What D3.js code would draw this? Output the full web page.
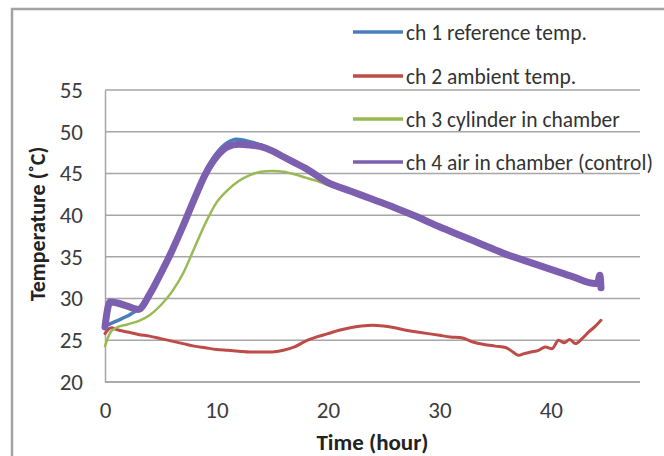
<!DOCTYPE html>
<html>
<head>
<meta charset="utf-8">
<script src="https://cdn.jsdelivr.net/npm/d3@7"></script>
<style>
  html, body { margin: 0; padding: 0; background: #fff; }
  svg { display: block; }
  text { font-family: Carlito, Lato, "Liberation Sans", sans-serif; }
</style>
</head>
<body>
<svg id="chart" width="664" height="456"></svg>
<script>
// ---- data ----
const seriesNames = [
  "ch 1 reference temp.",
  "ch 2 ambient temp.",
  "ch 3 cylinder in chamber",
  "ch 4 air in chamber (control)"
];
const xTicks = [0, 10, 20, 30, 40];
const yTicks = [20, 25, 30, 35, 40, 45, 50, 55];

const ch1 = [[0,26.7],[0.5,27.0],[1,27.3],[2,27.9],[3,28.8],[4,30.7],[5,33.2],[6,36.0],[7,39.0],[8,42.2],[9,45.2],[10,47.4],[11,48.7],[11.8,49.1],[13,48.8],[14,48.4],[15,47.8],[16,47.1],[17,46.4],[18,45.7],[20,44.1],[22,43.0],[24,42.0],[26,40.9],[28,39.8],[30,38.6],[32,37.5],[34,36.4],[36,35.3],[38,34.4],[40,33.5],[42,32.6],[44,31.8],[44.5,32.3]];
const ch2 = [[0,25.8],[0.3,26.3],[0.6,26.5],[1,26.3],[2,26.0],[3,25.7],[4,25.5],[5,25.2],[6,24.9],[7,24.6],[8,24.3],[9,24.1],[10,23.9],[11,23.8],[12,23.7],[13,23.6],[14,23.6],[15,23.6],[16,23.8],[17,24.2],[18,24.9],[19,25.4],[20,25.8],[21,26.2],[22,26.5],[23,26.7],[24,26.8],[25,26.7],[26,26.5],[27,26.2],[28,26.0],[29,25.8],[30,25.6],[31,25.4],[32,25.3],[33,24.8],[34,24.5],[35,24.3],[36,24.1],[36.6,23.6],[37.1,23.2],[37.6,23.4],[38.2,23.6],[38.9,23.8],[39.5,24.2],[40.1,24.0],[40.7,25.0],[41.2,24.7],[41.7,25.1],[42.2,24.6],[42.8,25.2],[43.4,26.0],[44,26.7],[44.5,27.4]];
const ch3 = [[0,24.3],[0.5,26.0],[1,26.5],[2,26.9],[3,27.3],[4,28.0],[5,29.2],[6,30.8],[7,33.0],[8,36.0],[9,39.0],[10,41.5],[11,43.0],[12,44.1],[13,44.8],[14,45.2],[15,45.3],[16,45.2],[17,44.9],[18,44.5],[19,44.1],[20,43.6],[22,42.8],[24,41.8],[26,40.8],[28,39.7],[30,38.5],[32,37.4],[34,36.3],[36,35.2],[38,34.3],[40,33.4],[42,32.6],[44,31.9],[44.5,32.5]];
const ch4 = [[0,26.6],[0.2,28.5],[0.45,29.6],[1,29.5],[2,29.1],[3,28.7],[4,30.5],[5,33.0],[6,35.7],[7,38.7],[8,41.9],[9,44.9],[10,47.0],[11,48.2],[12,48.5],[13,48.4],[14,48.2],[15,47.7],[16,47.0],[17,46.3],[18,45.6],[20,43.9],[22,42.9],[24,41.9],[26,40.9],[28,39.8],[30,38.6],[32,37.5],[34,36.4],[36,35.3],[38,34.4],[40,33.5],[42,32.6],[44,31.8],[44.2,31.9],[44.4,32.8],[44.5,31.3]];

const seriesData = [ch1, ch2, ch3, ch4];
const colors = ["#4a7ebb", "#be4b48", "#98b954", "#7d5fb0"];
const widths = [3.5, 3, 2.5, 7];

// ---- layout ----
const svg = d3.select("#chart");
const plot = { left: 105, right: 640, top: 90, bottom: 382 };

const x = d3.scaleLinear().domain([0, 48]).range([plot.left, plot.right]);
const y = d3.scaleLinear().domain([20, 55]).range([plot.bottom, plot.top]);

// outer frame (cropped on right and bottom like the reference)
svg.append("rect")
  .attr("x", 12).attr("y", 9)
  .attr("width", 700).attr("height", 500)
  .attr("fill", "#fff")
  .attr("stroke", "#a3a3a3").attr("stroke-width", 2.5);

// gridlines
svg.append("g")
  .selectAll("line")
  .data(yTicks)
  .join("line")
  .attr("x1", plot.left).attr("x2", plot.right)
  .attr("y1", d => y(d)).attr("y2", d => y(d))
  .attr("stroke", "#a6a6a6").attr("stroke-width", 1.5);

// y axis
const yAxis = d3.axisLeft(y).tickValues(yTicks).tickSize(0).tickPadding(22);
const gy = svg.append("g").attr("transform", `translate(${plot.left},0)`).call(yAxis);
gy.select(".domain").attr("stroke", "#a6a6a6").attr("stroke-width", 1.5);
gy.selectAll("text").attr("font-size", 23).attr("fill", "#3c3c3c");

// x axis
const xAxis = d3.axisBottom(x).tickValues(xTicks).tickSize(0).tickPadding(20);
const gx = svg.append("g").attr("transform", `translate(0,${plot.bottom})`).call(xAxis);
gx.select(".domain").attr("stroke", "#a6a6a6").attr("stroke-width", 1.5)
  .attr("d", `M${plot.left},0H${plot.right}`);
gx.selectAll("text").attr("font-size", 23).attr("fill", "#3c3c3c");

// series lines
const line = d3.line().x(d => x(d[0])).y(d => y(d[1])).curve(d3.curveMonotoneX);
svg.append("g")
  .selectAll("path")
  .data(seriesData)
  .join("path")
  .attr("d", line)
  .attr("fill", "none")
  .attr("stroke", (d, i) => colors[i])
  .attr("stroke-width", (d, i) => widths[i])
  .attr("stroke-linejoin", "round")
  .attr("stroke-linecap", "round");

// axis titles
svg.append("text")
  .attr("x", (plot.left + plot.right) / 2).attr("y", 450)
  .attr("text-anchor", "middle")
  .attr("font-size", 23).attr("font-weight", "bold").attr("fill", "#222")
  .text("Time (hour)");

svg.append("text")
  .attr("transform", "translate(45,224) rotate(-90)")
  .attr("text-anchor", "middle")
  .attr("font-size", 22).attr("font-weight", "bold").attr("fill", "#222")
  .text("Temperature (˚C)");

// legend
const legendY = [32, 76, 119, 162];
const lg = svg.append("g")
  .selectAll("g")
  .data(seriesNames)
  .join("g")
  .attr("transform", (d, i) => `translate(353,${legendY[i]})`);
lg.append("line")
  .attr("x1", 0).attr("x2", 50).attr("y1", 0).attr("y2", 0)
  .attr("stroke", (d, i) => colors[i]).attr("stroke-width", 3.5);
lg.append("text")
  .attr("x", 53).attr("y", 0).attr("dy", "0.35em")
  .attr("font-size", 21.5).attr("fill", "#333")
  .text(d => d);
</script>
</body>
</html>
